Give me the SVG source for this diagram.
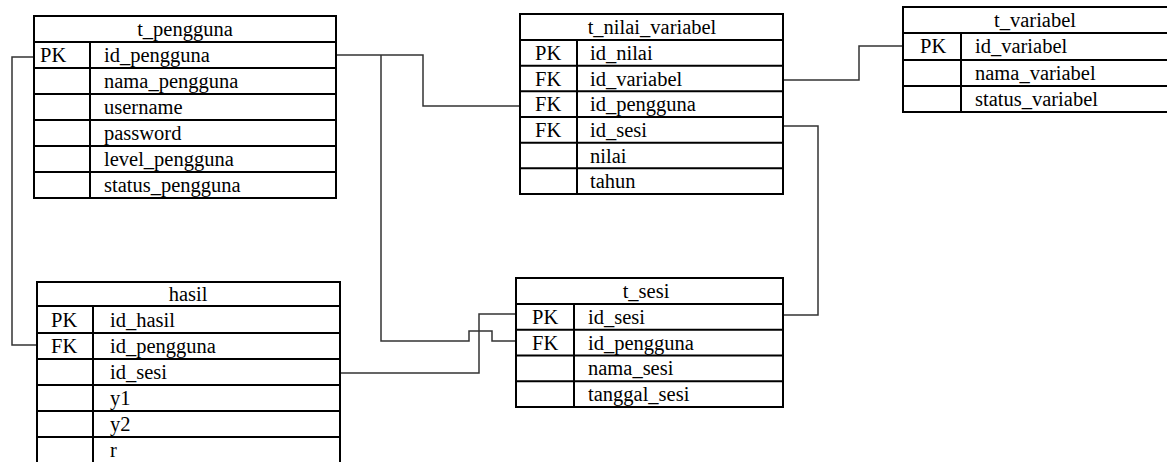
<svg xmlns="http://www.w3.org/2000/svg" width="1167" height="462" viewBox="0 0 1167 462">
<style>
.b{fill:#fff;stroke:#000;stroke-width:2}
.l{stroke:#000;stroke-width:2;fill:none}
.c{stroke:#333;stroke-width:1.5;fill:none}
text{font-family:"Liberation Serif","Times New Roman",serif;font-size:20.5px;fill:#000}
.h{text-anchor:middle}
</style>
<rect width="1167" height="462" fill="#fff"/>
<g id="connectors">
<path class="c" d="M34,57 H12 V345 H37"/>
<path class="c" d="M336,55 H423 V106 H520"/>
<path class="c" d="M381,55 V341 H469 V331 H492 V341 H516"/>
<path class="c" d="M340,373 H479 V314 H516"/>
<path class="c" d="M783,80 H859 V46 H903"/>
<path class="c" d="M783,315 H818 V126 H783"/>
</g>
<g id="t_pengguna">
<rect class="b" x="34" y="16" width="302" height="182"/>
<path class="l" d="M34,42 H336 M34,68 H336 M34,94 H336 M34,120 H336 M34,146 H336 M34,172 H336 M90,42 V198"/>
<text class="h" x="185" y="36">t_pengguna</text>
<text x="40" y="62">PK</text>
<text x="104" y="62">id_pengguna</text>
<text x="104" y="88">nama_pengguna</text>
<text x="104" y="114">username</text>
<text x="104" y="140">password</text>
<text x="104" y="166">level_pengguna</text>
<text x="104" y="192">status_pengguna</text>
</g>
<g id="t_nilai_variabel">
<rect class="b" x="520" y="14" width="263" height="180"/>
<path class="l" d="M520,40 H783 M520,65.7 H783 M520,91.3 H783 M520,117 H783 M520,142.7 H783 M520,168.3 H783 M577,40 V194"/>
<text class="h" x="652" y="34">t_nilai_variabel</text>
<text x="535" y="60">PK</text>
<text x="590" y="60">id_nilai</text>
<text x="535" y="86">FK</text>
<text x="590" y="86">id_variabel</text>
<text x="535" y="111">FK</text>
<text x="590" y="111">id_pengguna</text>
<text x="535" y="137">FK</text>
<text x="590" y="137">id_sesi</text>
<text x="590" y="163">nilai</text>
<text x="590" y="188">tahun</text>
</g>
<g id="t_variabel">
<rect class="b" x="903" y="7" width="266" height="105"/>
<path class="l" d="M903,33 H1169 M903,60 H1169 M903,86 H1169 M961,33 V112"/>
<text class="h" x="1035" y="27">t_variabel</text>
<text x="920" y="53">PK</text>
<text x="975" y="53">id_variabel</text>
<text x="975" y="80">nama_variabel</text>
<text x="975" y="106">status_variabel</text>
</g>
<g id="t_sesi">
<rect class="b" x="516" y="278" width="267" height="129"/>
<path class="l" d="M516,304 H783 M516,329.7 H783 M516,355.5 H783 M516,381.2 H783 M574,304 V407"/>
<text class="h" x="646" y="298">t_sesi</text>
<text x="532" y="324">PK</text>
<text x="588" y="324">id_sesi</text>
<text x="532" y="350">FK</text>
<text x="588" y="350">id_pengguna</text>
<text x="588" y="375">nama_sesi</text>
<text x="588" y="401">tanggal_sesi</text>
</g>
<g id="hasil">
<rect class="b" x="37" y="282" width="303" height="182"/>
<path class="l" d="M37,306 H340 M37,333 H340 M37,359 H340 M37,385 H340 M37,411 H340 M37,437 H340 M93,306 V464"/>
<text class="h" x="188" y="301">hasil</text>
<text x="51" y="327">PK</text>
<text x="110" y="327">id_hasil</text>
<text x="51" y="353">FK</text>
<text x="110" y="353">id_pengguna</text>
<text x="110" y="379">id_sesi</text>
<text x="110" y="405">y1</text>
<text x="110" y="431">y2</text>
<text x="110" y="457">r</text>
</g>
</svg>
